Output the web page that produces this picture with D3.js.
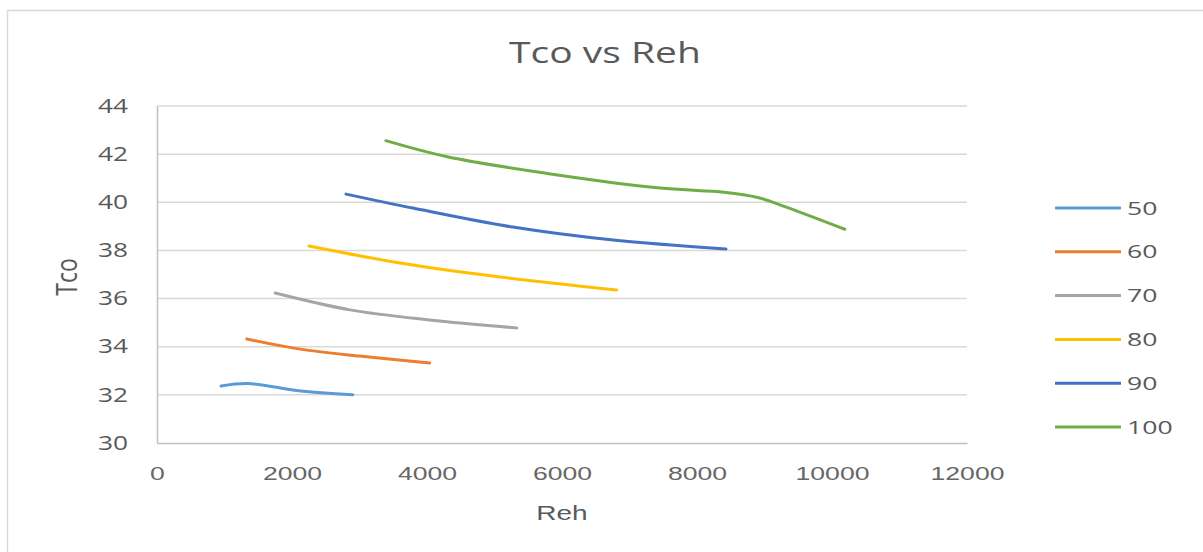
<!DOCTYPE html>
<html>
<head>
<meta charset="utf-8">
<script src="https://cdn.jsdelivr.net/npm/d3@7"></script>
<style>
  html, body { margin: 0; padding: 0; background: #fff; }
  svg { display: block; }
</style>
</head>
<body>
<svg id="chart" width="1203" height="552"></svg>
<script>
// Series names (legend) and their colours
const seriesNames = ["50", "60", "70", "80", "90", "100"];
const seriesColors = ["#5B9BD5", "#ED7D31", "#A5A5A5", "#FFC000", "#4472C4", "#70AD47"];

// Reh values for each series
const reh50  = [950, 1350, 2100, 2900];
const reh60  = [1330, 2120, 3000, 4040];
const reh70  = [1750, 2860, 4040, 5330];
const reh80  = [2250, 3600, 5080, 6810];
const reh90  = [2800, 3790, 5270, 6760, 8430];
const reh100 = [3390, 4300, 5780, 7500, 8400, 8900, 9300, 10190];

// Tco values for each series
const tco50  = [32.37, 32.47, 32.17, 32.0];
const tco60  = [34.32, 33.9, 33.61, 33.32];
const tco70  = [36.23, 35.53, 35.11, 34.78];
const tco80  = [38.18, 37.48, 36.9, 36.36];
const tco90  = [40.34, 39.76, 38.97, 38.43, 38.06];
const tco100 = [42.56, 41.89, 41.2, 40.58, 40.42, 40.2, 39.82, 38.88];

// Axis ticks
const xTicks = [0, 2000, 4000, 6000, 8000, 10000, 12000];
const yTicks = [30, 32, 34, 36, 38, 40, 42, 44];

const rehSets = [reh50, reh60, reh70, reh80, reh90, reh100];
const tcoSets = [tco50, tco60, tco70, tco80, tco90, tco100];

// Text in this chart is set wide; glyphs are stretched horizontally
const STRETCH = 1.4;

const svg = d3.select("#chart");

// Chart frame
svg.append("rect")
  .attr("x", 7.5).attr("y", 10.5)
  .attr("width", 1210).attr("height", 560)
  .attr("fill", "#fff")
  .attr("stroke", "#d9d9d9")
  .attr("stroke-width", 1.5);

const plot = { left: 157, right: 967, top: 106, bottom: 443 };

const x = d3.scaleLinear().domain([0, 12000]).range([plot.left, plot.right]);
const y = d3.scaleLinear().domain([30, 44]).range([plot.bottom, plot.top]);

// Horizontal gridlines
svg.append("g")
  .selectAll("line")
  .data(yTicks.filter(t => t !== 30))
  .join("line")
  .attr("x1", plot.left).attr("x2", plot.right)
  .attr("y1", d => y(d)).attr("y2", d => y(d))
  .attr("stroke", "#d9d9d9")
  .attr("stroke-width", 1.5);

// Y axis
const yAxis = svg.append("g")
  .attr("transform", `translate(${plot.left},0)`)
  .call(d3.axisLeft(y).tickValues(yTicks).tickSize(0).tickFormat(d3.format("d")));
yAxis.select(".domain").attr("stroke", "#bfbfbf").attr("stroke-width", 1.5);
yAxis.selectAll("text")
  .attr("x", -29 / 1.35)
  .attr("transform", "scale(1.35,1)")
  .attr("font-family", "Open Sans")
  .attr("font-size", 19.5)
  .attr("fill", "#595959");

// X axis
const xAxis = svg.append("g")
  .attr("transform", `translate(0,${plot.bottom})`)
  .call(d3.axisBottom(x).tickValues(xTicks).tickSize(0).tickPadding(24).tickFormat(d3.format("d")));
xAxis.select(".domain").attr("stroke", "#bfbfbf").attr("stroke-width", 1.5);
xAxis.selectAll("text")
  .attr("transform", `scale(${STRETCH},1)`)
  .attr("font-family", "Liberation Sans Narrow, Liberation Sans, sans-serif")
  .attr("font-size", 19)
  .attr("fill", "#666666");

// Draws a horizontally stretched text around its anchor point
function wideText(cx, cy, str, size, family, sx, rotate) {
  const rot = rotate ? ` rotate(${rotate})` : "";
  return svg.append("text")
    .attr("transform", `translate(${cx},${cy}) scale(${sx},1)${rot}`)
    .attr("text-anchor", "middle")
    .attr("font-family", family)
    .attr("font-size", size)
    .attr("fill", "#595959")
    .text(str);
}

// Title and axis titles
wideText(605, 63, "Tco vs Reh", 30, "Open Sans", 1.3);
wideText(562, 520, "Reh", 20, "Liberation Sans Narrow, Liberation Sans, sans-serif", STRETCH);
wideText(77, 277, "Tco", 23, "Open Sans", 1.3, -90);

// Smoothed series lines
const line = d3.line()
  .x(d => x(d[0]))
  .y(d => y(d[1]))
  .curve(d3.curveCatmullRom.alpha(0.5));

seriesNames.forEach((name, i) => {
  const pts = rehSets[i].map((r, j) => [r, tcoSets[i][j]]);
  svg.append("path")
    .datum(pts)
    .attr("d", line)
    .attr("fill", "none")
    .attr("stroke", seriesColors[i])
    .attr("stroke-width", 3)
    .attr("stroke-linecap", "round");
});

// Legend
const legend = svg.append("g");
seriesNames.forEach((name, i) => {
  const ly = 208 + i * 43.8;
  legend.append("line")
    .attr("x1", 1055).attr("x2", 1121)
    .attr("y1", ly).attr("y2", ly)
    .attr("stroke", seriesColors[i])
    .attr("stroke-width", 3);
  legend.append("text")
    .attr("transform", `translate(1127,${ly}) scale(${STRETCH},1)`)
    .attr("dy", "0.35em")
    .attr("font-family", "Open Sans")
    .attr("font-size", 19)
    .attr("fill", "#595959")
    .text(name);
});
</script>
</body>
</html>
